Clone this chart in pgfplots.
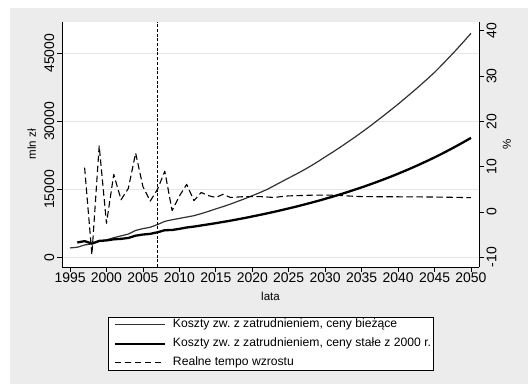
\documentclass[border=0pt]{standalone}
\usepackage{fontspec}
\setmainfont{Liberation Sans}
\usepackage{pgfplots}
\pgfplotsset{compat=1.18}
\usepackage{pgfplotstable}
\definecolor{bggray}{RGB}{236,236,236}
\definecolor{gridgray}{RGB}{230,230,230}
\definecolor{thingray}{RGB}{50,50,50}
\newcommand{\ticksize}{\fontsize{14pt}{16pt}\selectfont}
\newcommand{\lblsize}{\fontsize{11.6pt}{13pt}\selectfont}
\newcommand{\legsize}{\fontsize{12.2pt}{14pt}\selectfont}
\frenchspacing

\pgfplotstableread{
year thin
1995 2150
1996 2300
1997 2800
1998 3050
1999 3600
2000 3900
2001 4400
2002 4800
2003 5200
2004 6000
2005 6400
2006 6700
2007 7300
2008 8000
2009 8350
2010 8650
2011 8950
2012 9250
2013 9700
2014 10200
2015 10750
2016 11250
2017 11800
2018 12400
2019 13000
2020 13650
2021 14300
2022 15000
2023 15850
2024 16700
2025 17550
2026 18380
2027 19250
2028 20170
2029 21150
2030 22200
2031 23200
2032 24250
2033 25350
2034 26450
2035 27600
2036 28780
2037 30000
2038 31250
2039 32520
2040 33800
2041 35150
2042 36500
2043 37900
2044 39330
2045 40800
2046 42420
2047 44100
2048 45800
2049 47580
2050 49400
}\thintable

\pgfplotstableread{
year thick
1996 3350
1997 3650
1998 3100
1999 3700
2000 3800
2001 4050
2002 4150
2003 4350
2004 4850
2005 5100
2006 5250
2007 5600
2008 6050
2009 6100
2010 6350
2011 6650
2012 6850
2013 7100
2014 7350
2015 7600
2016 7880
2017 8150
2018 8450
2019 8750
2020 9080
2021 9410
2022 9750
2023 10100
2024 10470
2025 10850
2026 11240
2027 11650
2028 12070
2029 12500
2030 12960
2031 13430
2032 13910
2033 14420
2034 14940
2035 15480
2036 16040
2037 16620
2038 17220
2039 17840
2040 18490
2041 19160
2042 19850
2043 20570
2044 21310
2045 22080
2046 22880
2047 23710
2048 24570
2049 25460
2050 26380
}\thicktable

\pgfplotstableread{
year rate
1997 9.8
1998 -9.4
1999 14.6
2000 -2.5
2001 8.3
2002 2.7
2003 5.2
2004 13.0
2005 5.6
2006 2.4
2007 5.0
2008 9.0
2009 0.3
2010 3.5
2011 6.1
2012 2.5
2013 4.3
2014 3.6
2015 3.2
2016 3.9
2017 3.2
2018 3.3
2019 3.4
2020 3.4
2021 3.4
2022 3.3
2023 3.2
2024 3.4
2025 3.55
2026 3.6
2027 3.65
2028 3.7
2029 3.72
2030 3.73
2031 3.7
2032 3.65
2033 3.55
2034 3.45
2035 3.4
2036 3.38
2037 3.37
2038 3.36
2039 3.35
2040 3.35
2041 3.34
2042 3.33
2043 3.32
2044 3.31
2045 3.3
2046 3.28
2047 3.25
2048 3.22
2049 3.19
2050 3.16
}\ratetable

\begin{document}
\begin{tikzpicture}
\useasboundingbox (0,0) rectangle (528bp,384bp);
\fill[white] (0,0) rectangle (528bp,384bp);
\fill[bggray] (10bp,0bp) rectangle (528bp,376bp);

\pgfplotsset{
  common/.style={
    at={(62bp,117bp)}, anchor=south west,
    scale only axis, width=417bp, height=245bp,
    xmin=1993.9, xmax=2051.1,
    scaled ticks=false,
    axis line style={-, line width=0.8bp, black},
    tick style={line width=0.8bp, black},
    tick align=outside, major tick length=5bp,
    tick label style={font=\ticksize},
  },
}

\begin{axis}[common,
  ymin=-2047, ymax=51890,
  axis x line*=bottom, axis y line*=left,
  axis background/.style={fill=white},
  xtick={1995,2000,2005,2010,2015,2020,2025,2030,2035,2040,2045,2050},
  xticklabels={1995,2000,2005,2010,2015,2020,2025,2030,2035,2040,2045,2050},
  xticklabel style={anchor=north, inner sep=0.5bp},
  ytick={0,15000,30000,45000},
  yticklabels={0,15000,30000,45000},
  yticklabel style={rotate=90, anchor=south, inner sep=2.5bp},
  ymajorgrids, grid style={color=gridgray, line width=1bp},
  xlabel={lata},
  xlabel style={at={(axis description cs:0.5,-0.1212)}, anchor=center, font=\lblsize},
  ylabel={mln zł},
  ylabel style={at={(axis description cs:-0.0727,0.5)}, anchor=center, font=\lblsize},
]
\addplot[thingray, line width=1.2bp, line join=round] table[x=year, y=thin] {\thintable};
\addplot[black, line width=2.3bp, line join=round] table[x=year, y=thick] {\thicktable};
\end{axis}

\begin{axis}[common,
  ymin=-12.14, ymax=41.92,
  axis y line*=right, axis x line=none,
  ytick={-10,0,10,20,30,40},
  yticklabels={-10,0,10,20,30,40},
  yticklabel style={rotate=90, anchor=north, inner sep=2.5bp},
  ylabel={\%},
  ylabel style={at={(axis description cs:1.0671,0.5)}, anchor=center, font=\lblsize},
  legend image code/.code={\draw[#1] (0bp,0bp) -- (50bp,0bp);},
  legend cell align=left,
  legend style={at={(axis description cs:0.111,-0.203)}, anchor=north west,
    draw=black, line width=0.8bp, fill=white, font=\legsize,
    inner xsep=5bp, inner ysep=2bp, row sep=7.8bp,
    /tikz/every odd column/.append style={column sep=7bp},
    nodes={inner sep=0pt, text height=8.7bp, text depth=2.5bp}},
]
\addplot[black, line width=1bp, dash pattern=on 3bp off 1.7bp, forget plot] coordinates {(2007,-12.14) (2007,41.92)};
\addlegendimage{thingray, line width=1.2bp}
\addlegendentry{\makebox[255bp][l]{Koszty zw. z zatrudnieniem, ceny bieżące}}
\addlegendimage{black, line width=2.3bp}
\addlegendentry{\makebox[255bp][l]{Koszty zw. z zatrudnieniem, ceny stałe z 2000 r.}}
\addplot[black, line width=1.1bp, dash pattern=on 6.5bp off 3.5bp, line join=round] table[x=year, y=rate] {\ratetable};
\addlegendentry{\makebox[255bp][l]{Realne tempo wzrostu}}
\end{axis}
\end{tikzpicture}
\end{document}
